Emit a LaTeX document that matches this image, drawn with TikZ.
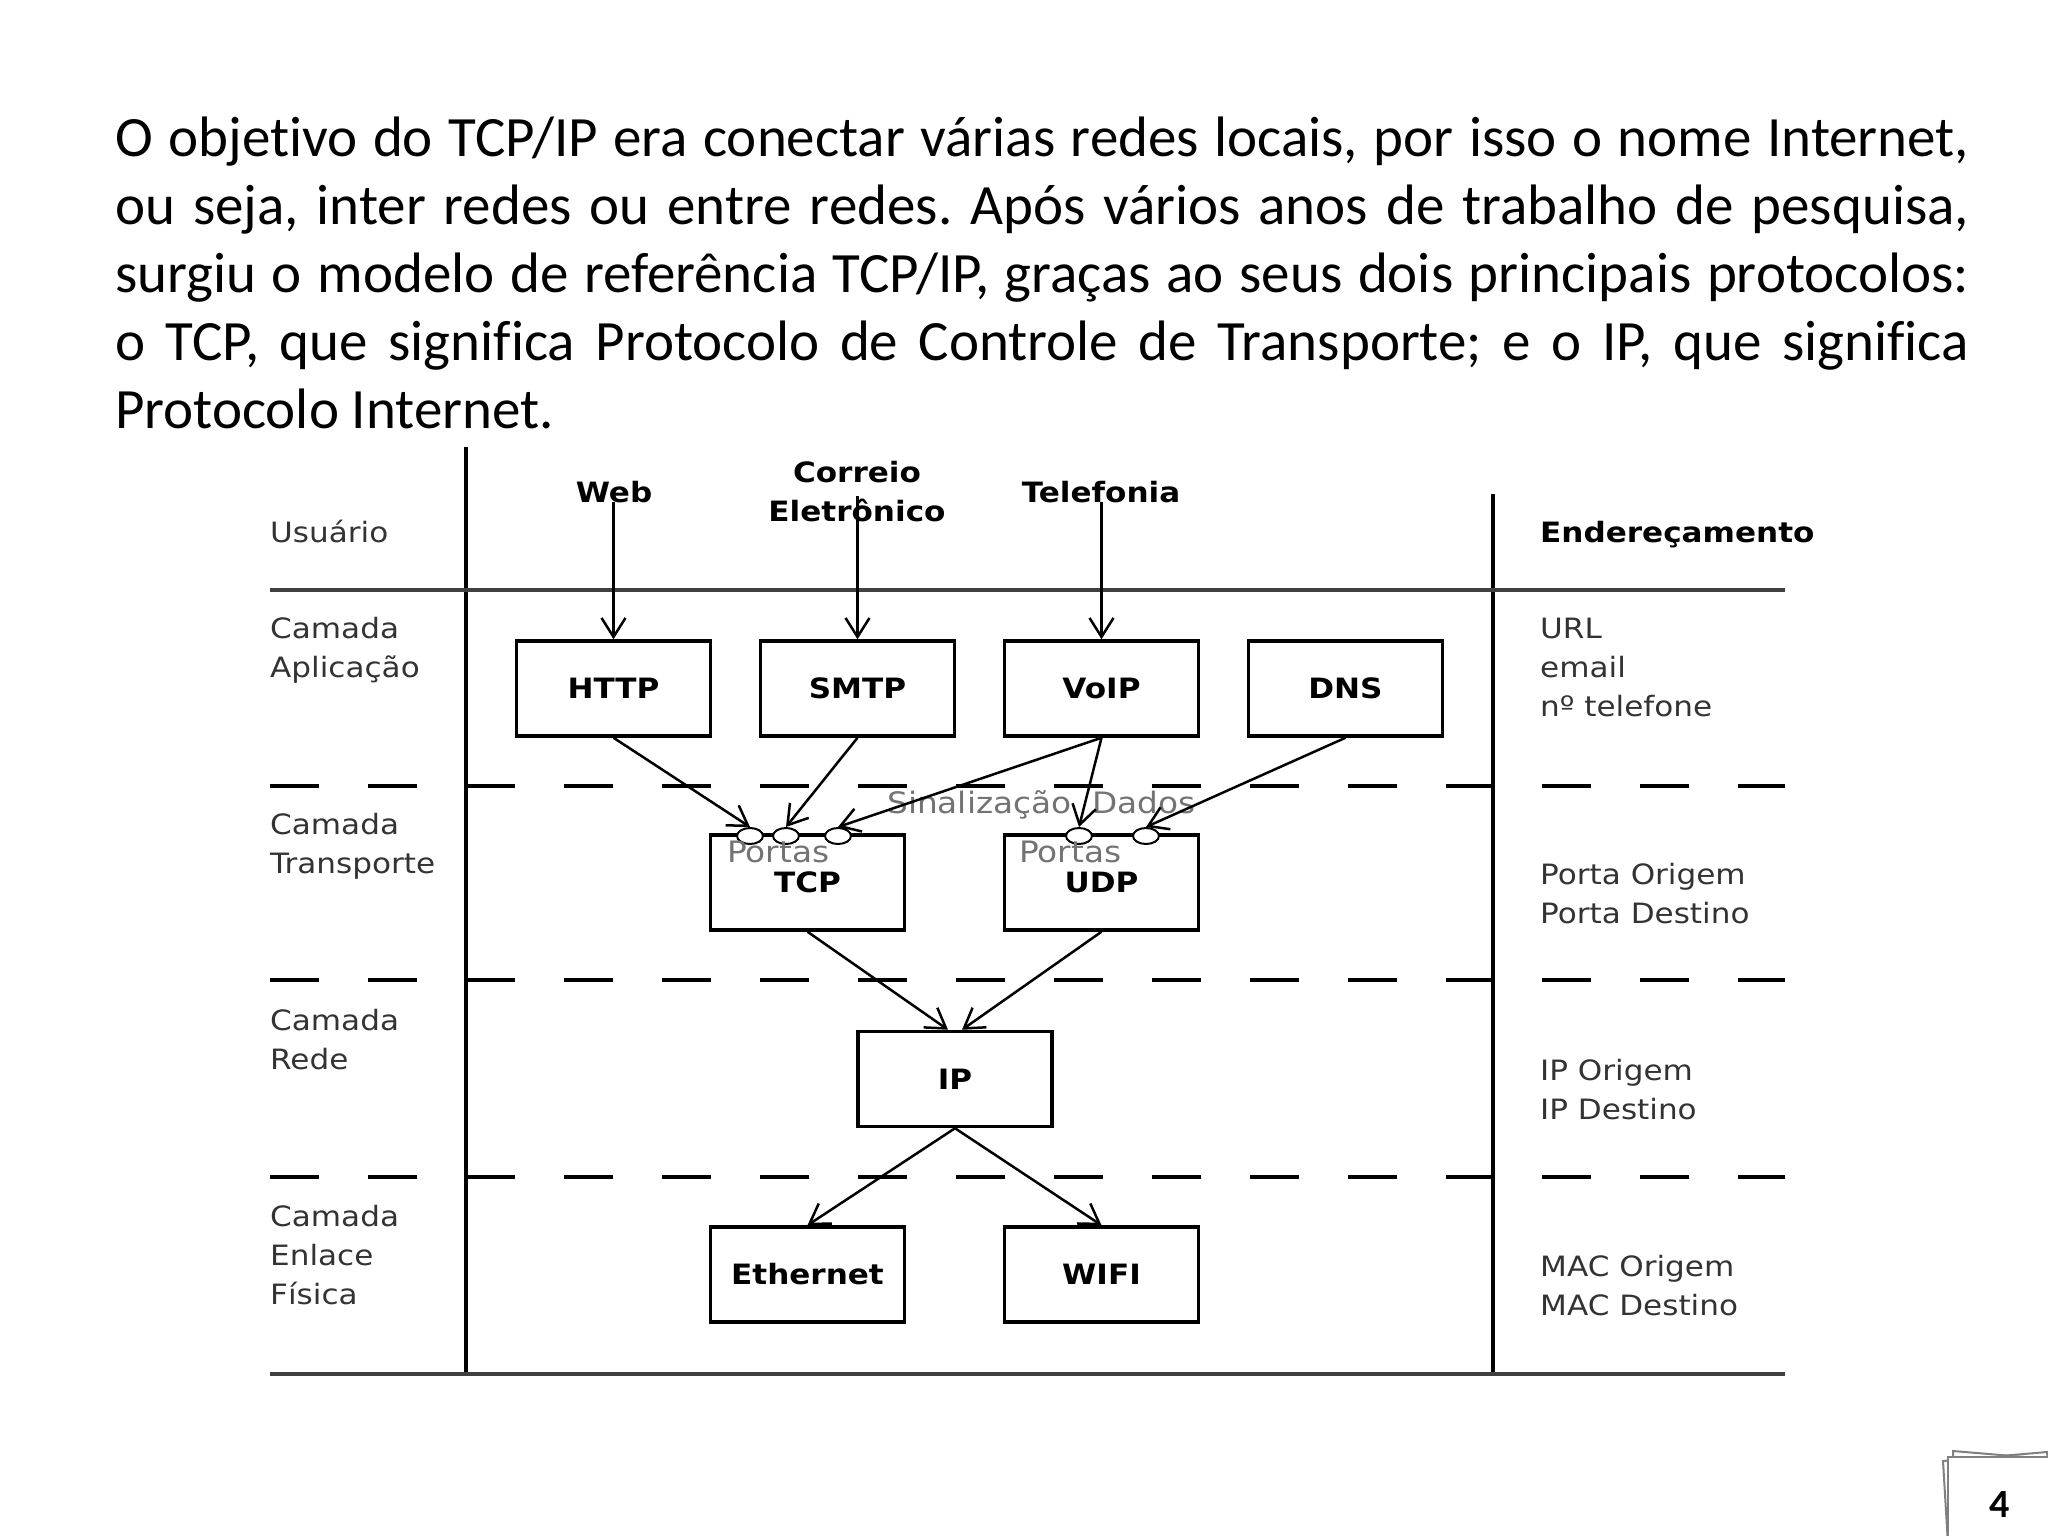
\documentclass[tikz,border=0pt]{standalone}
\usepackage{fontspec}
\setmainfont{Carlito}[Ligatures=NoCommon]
\newfontfamily\djv[FakeStretch=1.11]{DejaVu Sans}
\usetikzlibrary{arrows.meta,shapes.geometric}
\begin{document}
\begin{tikzpicture}[x=1pt,y=-1pt,
  lbl/.style={font=\djv\fontsize{28}{39}\selectfont, text=black!80, anchor=base west, align=left, inner sep=0pt},
  blbl/.style={font=\djv\bfseries\fontsize{28}{39}\selectfont, text=black, inner sep=0pt, align=center},
  glbl/.style={font=\djv\fontsize{29.5}{39}\selectfont, text=black!55, anchor=base west, inner sep=0pt},
  proto/.style={draw, line width=3.5pt, minimum width=194pt, minimum height=95pt, inner sep=0pt, font=\djv\bfseries\fontsize{28}{34}\selectfont},
  port/.style={ellipse, draw, fill=white, line width=2pt, minimum width=26pt, minimum height=16pt, inner sep=0pt},
  arr/.style={line width=2.5pt, -{Straight Barb[length=19pt,width=24pt]}},
  solidline/.style={line width=4.5pt, black!75},
  vline/.style={line width=4pt, black},
  dline/.style={line width=4pt, dash pattern=on 49pt off 49pt},
  sheet/.style={draw=black!50, fill=white, line width=2pt}
]
\fill[white] (0,0) rectangle (2048,1536);
\useasboundingbox (0,0) rectangle (2048,1536);

% paragraph
\node[anchor=north west, inner sep=0pt, text width=1854pt, align=justify,
      font=\fontsize{57}{68}\selectfont] (para) at (115,106)
{\frenchspacing\hyphenpenalty=10000\exhyphenpenalty=10000\noindent\rule{0pt}{50pt}O objetivo do TCP/IP era conectar várias redes locais, por isso o nome Internet,\linebreak
ou seja, inter redes ou entre redes. Após vários anos de trabalho de pesquisa,\linebreak
surgiu o modelo de referência TCP/IP, graças ao seus dois principais protocolos:\linebreak
o TCP, que significa Protocolo de Controle de Transporte; e o IP, que significa\linebreak
Protocolo Internet.};

% frame lines
\draw[vline] (466,447) -- (466,1374);
\draw[vline] (1493,494) -- (1493,1374);
\draw[solidline] (270,590) -- (1785,590);
\draw[solidline] (270,1374) -- (1785,1374);
\foreach \yy in {786,980,1177} {
  \draw[dline] (270,\yy) -- (418,\yy);
  \draw[dline] (466,\yy) -- (1493,\yy);
  \draw[dline] (1542,\yy) -- (1785,\yy);
}

% left labels (base = last line's baseline)
\node[lbl] (usuario) at (270,542) {Usuário};
\node[lbl] (capl) at (270,677) {Camada\\Aplicação};
\node[lbl] (ctra) at (270,873) {Camada\\Transporte};
\node[lbl] (cred) at (270,1069) {Camada\\Rede};
\node[lbl] (cenl) at (270,1304) {Camada\\Enlace\\Física};

% right labels
\node[lbl, text=black, font=\djv\bfseries\fontsize{28}{39}\selectfont] (ender) at (1540,542) {Endereçamento};
\node[lbl] (urls) at (1540,716) {URL\\email\\nº telefone};
\node[lbl] (porta) at (1540,923) {Porta Origem\\Porta Destino};
\node[lbl] (ipod) at (1540,1119) {IP Origem\\IP Destino};
\node[lbl] (macod) at (1540,1315) {MAC Origem\\MAC Destino};

% user services
\node[blbl] (web) at (614,492) {Web};
\node[blbl] (correio) at (857,492) {Correio\\Eletrônico};
\node[blbl] (tel) at (1101,492) {Telefonia};
\coordinate (webs) at (613.5,502);
\coordinate (cors) at (857.5,496);
\coordinate (tels) at (1101.5,502);

% protocol boxes
\node[proto] (http) at (613.5,688.5) {HTTP};
\node[proto] (smtp) at (857.5,688.5) {SMTP};
\node[proto] (voip) at (1101.5,688.5) {VoIP};
\node[proto] (dns) at (1345.5,688.5) {DNS};
\node[proto] (tcp) at (807.5,882.5) {TCP};
\node[proto] (udp) at (1101.5,882.5) {UDP};
\node[proto] (ip) at (955,1079) {IP};
\node[proto] (eth) at (807.5,1274.5) {Ethernet};
\node[proto] (wifi) at (1101.5,1274.5) {WIFI};

% ports
\node[port] (tp1) at (750,836) {};
\node[port] (tp2) at (786,836) {};
\node[port] (tp3) at (838,836) {};
\node[port] (up1) at (1079,836) {};
\node[port] (up2) at (1146,836) {};

% gray labels
\node[glbl] (port1) at (727,862) {Portas};
\node[glbl] (port2) at (1019,862) {Portas};
\node[glbl] (sinal) at (887,813) {Sinalização};
\node[glbl] (dados) at (1092,813) {Dados};

% arrows
\draw[arr] (webs) -- (http.north);
\draw[arr] (cors) -- (smtp.north);
\draw[arr] (tels) -- (voip.north);
\draw[arr] (http.south) -- (tp1.north);
\draw[arr] (smtp.south) -- (tp2.north);
\draw[arr] (voip.south) -- (tp3.north);
\draw[arr] (voip.south) -- (up1.north);
\draw[arr] (dns.south) -- (up2.north);
\draw[arr] (tcp.south) -- ([xshift=-7pt]ip.north);
\draw[arr] (udp.south) -- ([xshift=7pt]ip.north);
\draw[arr] (ip.south) -- (eth.north);
\draw[arr] (ip.south) -- (wifi.north);

% page number
\draw[sheet] (1943,1461) -- (2047,1452) -- (2056,1545) -- (1948,1545) -- cycle;
\draw[sheet] (1953,1451) -- (2060,1460) -- (2060,1545) -- (1953,1545) -- cycle;
\draw[sheet] (1948,1457) rectangle (2052,1545);
\node[font=\bfseries\fontsize{40}{40}\selectfont, inner sep=0pt] (pnum) at (2000,1505) {4};
\end{tikzpicture}
\end{document}
